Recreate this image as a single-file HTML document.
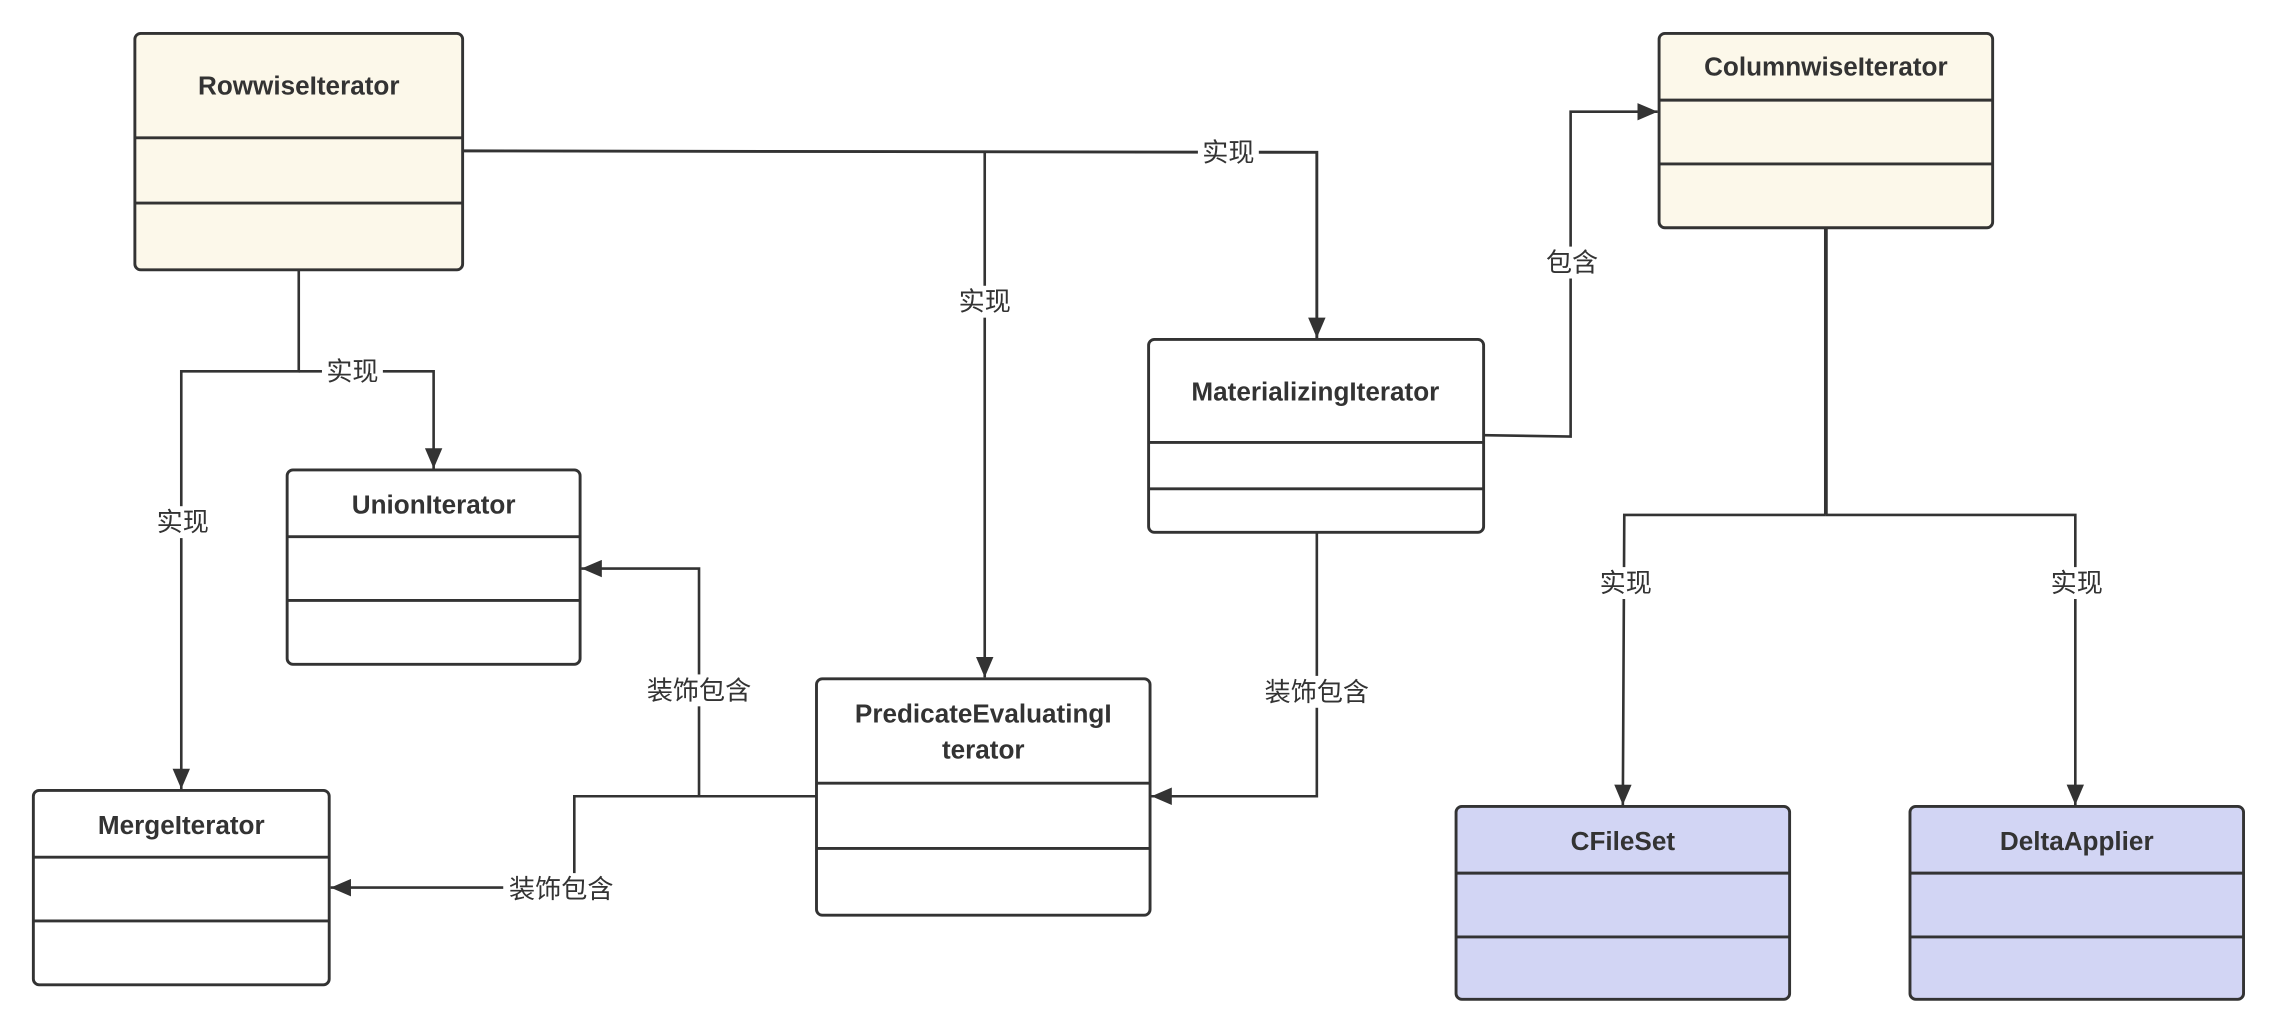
<!DOCTYPE html>
<html><head><meta charset="utf-8"><style>
html,body{margin:0;padding:0;background:#fff;}
svg{display:block}
.t{font-family:"Liberation Sans","Noto Sans CJK SC",sans-serif;font-weight:bold;font-size:18px;fill:#333;text-anchor:middle}
.l{font-family:"Liberation Sans","Noto Sans CJK SC",sans-serif;font-size:18px;fill:#333;text-anchor:middle;dominant-baseline:central}
.bx{stroke:#333;stroke-width:2}
.ln{stroke:#333;stroke-width:1.8;fill:none}
.lb{fill:#fff}
</style></head><body>
<svg width="2274" height="1024" viewBox="0 0 1568 706" xmlns="http://www.w3.org/2000/svg">
<defs>
<marker id="b" viewBox="0 0 14 12" refX="14" refY="6" markerWidth="14" markerHeight="12" orient="auto" markerUnits="userSpaceOnUse"><path d="M0,0L14,6L0,12z" fill="#333"/></marker></defs>

<!-- connectors -->
<path class="ln" d="M319,104 L908,105 L908,233" marker-end="url(#b)" style="stroke-width:2"/>
<path class="ln" d="M679,105 L679,467" marker-end="url(#b)"/>
<path class="ln" d="M206,186 L206,256 L125,256 L125,544" marker-end="url(#b)"/>
<path class="ln" d="M206,256 L299,256 L299,323" marker-end="url(#b)"/>
<path class="ln" d="M1023,300 L1083,301 L1083,77 L1143,77" marker-end="url(#b)"/>
<path class="ln" d="M1259,157 L1259,355" style="stroke-width:2.6"/>
<path class="ln" d="M1259,355 L1120,355 L1119,555" marker-end="url(#b)"/>
<path class="ln" d="M1259,355 L1431,355 L1431,555" marker-end="url(#b)"/>
<path class="ln" d="M908,367 L908,549 L794,549" marker-end="url(#b)"/>
<path class="ln" d="M563,549 L482,549 L482,392 L401,392" marker-end="url(#b)"/>
<path class="ln" d="M563,549 L396,549 L396,612 L228,612" marker-end="url(#b)"/>

<!-- labels -->
<g>
<rect class="lb" x="826" y="95" width="42" height="20"/><text class="l" x="847" y="105">实现</text>
<rect class="lb" x="658" y="197" width="42" height="22"/><text class="l" x="679" y="208">实现</text>
<rect class="lb" x="222" y="246" width="42" height="20"/><text class="l" x="243" y="256">实现</text>
<rect class="lb" x="105" y="349" width="42" height="22"/><text class="l" x="126" y="360">实现</text>
<rect class="lb" x="1063" y="170" width="42" height="22"/><text class="l" x="1084" y="181">包含</text>
<rect class="lb" x="1100" y="391" width="42" height="22"/><text class="l" x="1121" y="402">实现</text>
<rect class="lb" x="1411" y="391" width="42" height="22"/><text class="l" x="1432" y="402">实现</text>
<rect class="lb" x="870" y="466" width="76" height="22"/><text class="l" x="908" y="477">装饰包含</text>
<rect class="lb" x="444" y="465" width="76" height="22"/><text class="l" x="482" y="476">装饰包含</text>
<rect class="lb" x="347" y="602" width="80" height="22"/><text class="l" x="387" y="613">装饰包含</text>
</g>

<!-- boxes -->
<g class="bx">
<rect x="93" y="23" width="226" height="163" rx="4" fill="#fcf8ea"/>
<line x1="93" y1="95" x2="319" y2="95"/><line x1="93" y1="140" x2="319" y2="140"/>
<rect x="1144" y="23" width="230" height="134" rx="4" fill="#fcf8ea"/>
<line x1="1144" y1="69" x2="1374" y2="69"/><line x1="1144" y1="113" x2="1374" y2="113"/>
<rect x="792" y="234" width="231" height="133" rx="4" fill="#fff"/>
<line x1="792" y1="305" x2="1023" y2="305"/><line x1="792" y1="337" x2="1023" y2="337"/>
<rect x="198" y="324" width="202" height="134" rx="4" fill="#fff"/>
<line x1="198" y1="370" x2="400" y2="370"/><line x1="198" y1="414" x2="400" y2="414"/>
<rect x="563" y="468" width="230" height="163" rx="4" fill="#fff"/>
<line x1="563" y1="540" x2="793" y2="540"/><line x1="563" y1="585" x2="793" y2="585"/>
<rect x="23" y="545" width="204" height="134" rx="4" fill="#fff"/>
<line x1="23" y1="591" x2="227" y2="591"/><line x1="23" y1="635" x2="227" y2="635"/>
<rect x="1004" y="556" width="230" height="133" rx="4" fill="#d2d5f4"/>
<line x1="1004" y1="602" x2="1234" y2="602"/><line x1="1004" y1="646" x2="1234" y2="646"/>
<rect x="1317" y="556" width="230" height="133" rx="4" fill="#d2d5f4"/>
<line x1="1317" y1="602" x2="1547" y2="602"/><line x1="1317" y1="646" x2="1547" y2="646"/>
</g>

<text class="t" x="206" y="65">RowwiseIterator</text>
<text class="t" x="1259" y="52">ColumnwiseIterator</text>
<text class="t" x="907" y="276">MaterializingIterator</text>
<text class="t" x="299" y="354">UnionIterator</text>
<text class="t" x="678" y="498">PredicateEvaluatingI</text>
<text class="t" x="678" y="523">terator</text>
<text class="t" x="125" y="575">MergeIterator</text>
<text class="t" x="1119" y="586">CFileSet</text>
<text class="t" x="1432" y="586">DeltaApplier</text>
</svg>
</body></html>
